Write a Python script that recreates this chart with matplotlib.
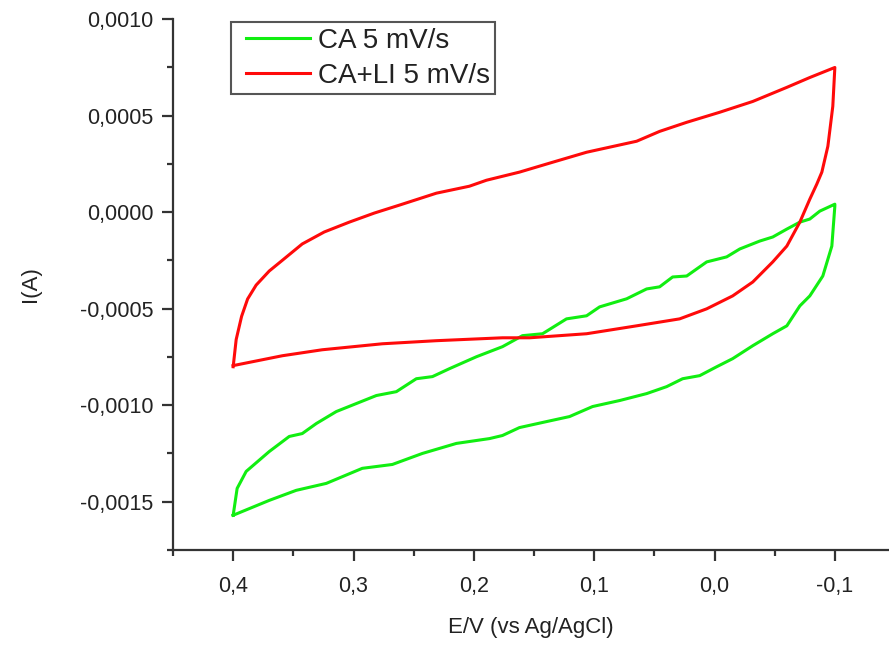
import matplotlib.pyplot as plt
from matplotlib.legend_handler import HandlerLine2D
from matplotlib.ticker import FuncFormatter, MultipleLocator

plt.rcParams['font.family'] = ['Liberation Sans', 'DejaVu Sans']

# CA 5 mV/s: Hinweg (obere Kurve) von 0,4 nach -0,1, dann Rueckweg
ca_e = [0.400, 0.3967, 0.3892, 0.370, 0.3534, 0.3426, 0.3309, 0.3143, 0.2810, 0.2644,
        0.2478, 0.2344, 0.2203, 0.1978, 0.1762, 0.1596, 0.1429, 0.1230, 0.1063, 0.0955,
        0.0730, 0.0564, 0.0456, 0.0348, 0.0231, 0.0065, -0.0101, -0.0210, -0.0376, -0.0484,
        -0.0601, -0.0709, -0.0792, -0.0875, -0.100,
        -0.100, -0.0975, -0.0900, -0.0792, -0.0709, -0.0601, -0.0484, -0.0318, -0.0151, -0.0018,
        0.0123, 0.0265, 0.0398, 0.0564, 0.0789, 0.1013, 0.1205, 0.1396, 0.1621, 0.1762,
        0.1870, 0.2145, 0.2428, 0.2677, 0.2927, 0.3226, 0.3476, 0.3700, 0.400]
ca_i = [-1.570, -1.431, -1.343, -1.240, -1.162, -1.147, -1.095, -1.033, -0.950, -0.930,
        -0.863, -0.852, -0.811, -0.749, -0.697, -0.640, -0.630, -0.553, -0.537, -0.491,
        -0.449, -0.398, -0.387, -0.336, -0.331, -0.258, -0.232, -0.191, -0.150, -0.129,
        -0.088, -0.052, -0.036, 0.005, 0.041,
        0.031, -0.176, -0.331, -0.434, -0.486, -0.589, -0.630, -0.692, -0.759, -0.801,
        -0.847, -0.863, -0.904, -0.940, -0.976, -1.007, -1.059, -1.085, -1.116, -1.157,
        -1.173, -1.198, -1.250, -1.307, -1.327, -1.405, -1.441, -1.493, -1.570]

# CA+LI 5 mV/s
cali_e = [0.400, 0.3975, 0.3930, 0.3880, 0.3809, 0.370, 0.3592, 0.3426, 0.3243, 0.3035, 0.2827,
          0.2619, 0.2311, 0.2037, 0.1895, 0.1621, 0.1346, 0.1063, 0.0647, 0.0456, 0.0231,
          -0.0043, -0.0318, -0.0601, -0.0792, -0.100,
          -0.0983, -0.0942, -0.0892, -0.0850, -0.0792, -0.0709, -0.0601, -0.0484, -0.0318, -0.0151,
          0.0065, 0.0290, 0.0647, 0.1063, 0.1537, 0.1762, 0.2311, 0.2760, 0.3260, 0.3592, 0.400]
cali_i = [-0.801, -0.660, -0.540, -0.450, -0.378, -0.305, -0.250, -0.165, -0.103, -0.052, -0.005,
          0.036, 0.098, 0.134, 0.165, 0.207, 0.258, 0.310, 0.367, 0.418, 0.465,
          0.517, 0.573, 0.646, 0.697, 0.749,
          0.548, 0.341, 0.207, 0.145, 0.067, -0.052, -0.176, -0.258, -0.362, -0.434,
          -0.501, -0.553, -0.589, -0.630, -0.651, -0.651, -0.666, -0.682, -0.713, -0.744, -0.795]

ca_i = [v * 1e-3 for v in ca_i]
cali_i = [v * 1e-3 for v in cali_i]

fig = plt.figure(figsize=(8.89, 6.45), dpi=100)
ax = fig.add_axes([173 / 889, 1 - 550 / 645, 1 - 173 / 889, (550 - 19) / 645])

l1, = ax.plot(ca_e, ca_i, color='#11ee11', lw=2.2, label='CA 5 mV/s')
l2, = ax.plot(cali_e, cali_i, color='#ff0a0a', lw=2.2, label='CA+LI 5 mV/s')

ax.set_xlim(0.45, -0.145)
ax.set_ylim(-0.00175, 0.001)

ax.xaxis.set_major_locator(MultipleLocator(0.1))
ax.xaxis.set_minor_locator(MultipleLocator(0.05))
ax.yaxis.set_major_locator(MultipleLocator(0.0005))
ax.yaxis.set_minor_locator(MultipleLocator(0.00025))
ax.xaxis.set_major_formatter(FuncFormatter(lambda v, p: f"{v:.1f}".replace('.', ',').replace('-0,0', '0,0')))
ax.yaxis.set_major_formatter(FuncFormatter(lambda v, p: f"{v:.4f}".replace('.', ',').replace('-0,0000', '0,0000')))

for s in ['top', 'right']:
    ax.spines[s].set_visible(False)
for s in ['left', 'bottom']:
    ax.spines[s].set_linewidth(1.6)
    ax.spines[s].set_color('#333333')

ax.tick_params(which='major', direction='out', length=8, width=1.6, color='#333333',
               labelsize=15.5, labelcolor='#222222', pad=6)
ax.tick_params(axis='x', which='major', pad=11)
ax.tick_params(which='minor', direction='out', length=4, width=1.6, color='#333333')

ax.set_xlabel('E/V (vs Ag/AgCl)', fontsize=16, color='#222222', labelpad=14)
ax.set_ylabel('I(A)', fontsize=16, color='#222222', labelpad=28)

hmap = {l1: HandlerLine2D(xpad=0.33), l2: HandlerLine2D(xpad=0.33)}
leg = ax.legend(loc='upper left', bbox_to_anchor=(0.081, 0.994), borderaxespad=0,
                fontsize=20, fancybox=False, handlelength=2.63, handletextpad=0.29,
                labelspacing=0.33, borderpad=0.2, framealpha=1, handler_map=hmap)
leg.get_frame().set_edgecolor('#555555')
leg.get_frame().set_linewidth(1.5)
for t in leg.get_texts():
    t.set_color('#222222')

fig.savefig('out.png', dpi=100)
